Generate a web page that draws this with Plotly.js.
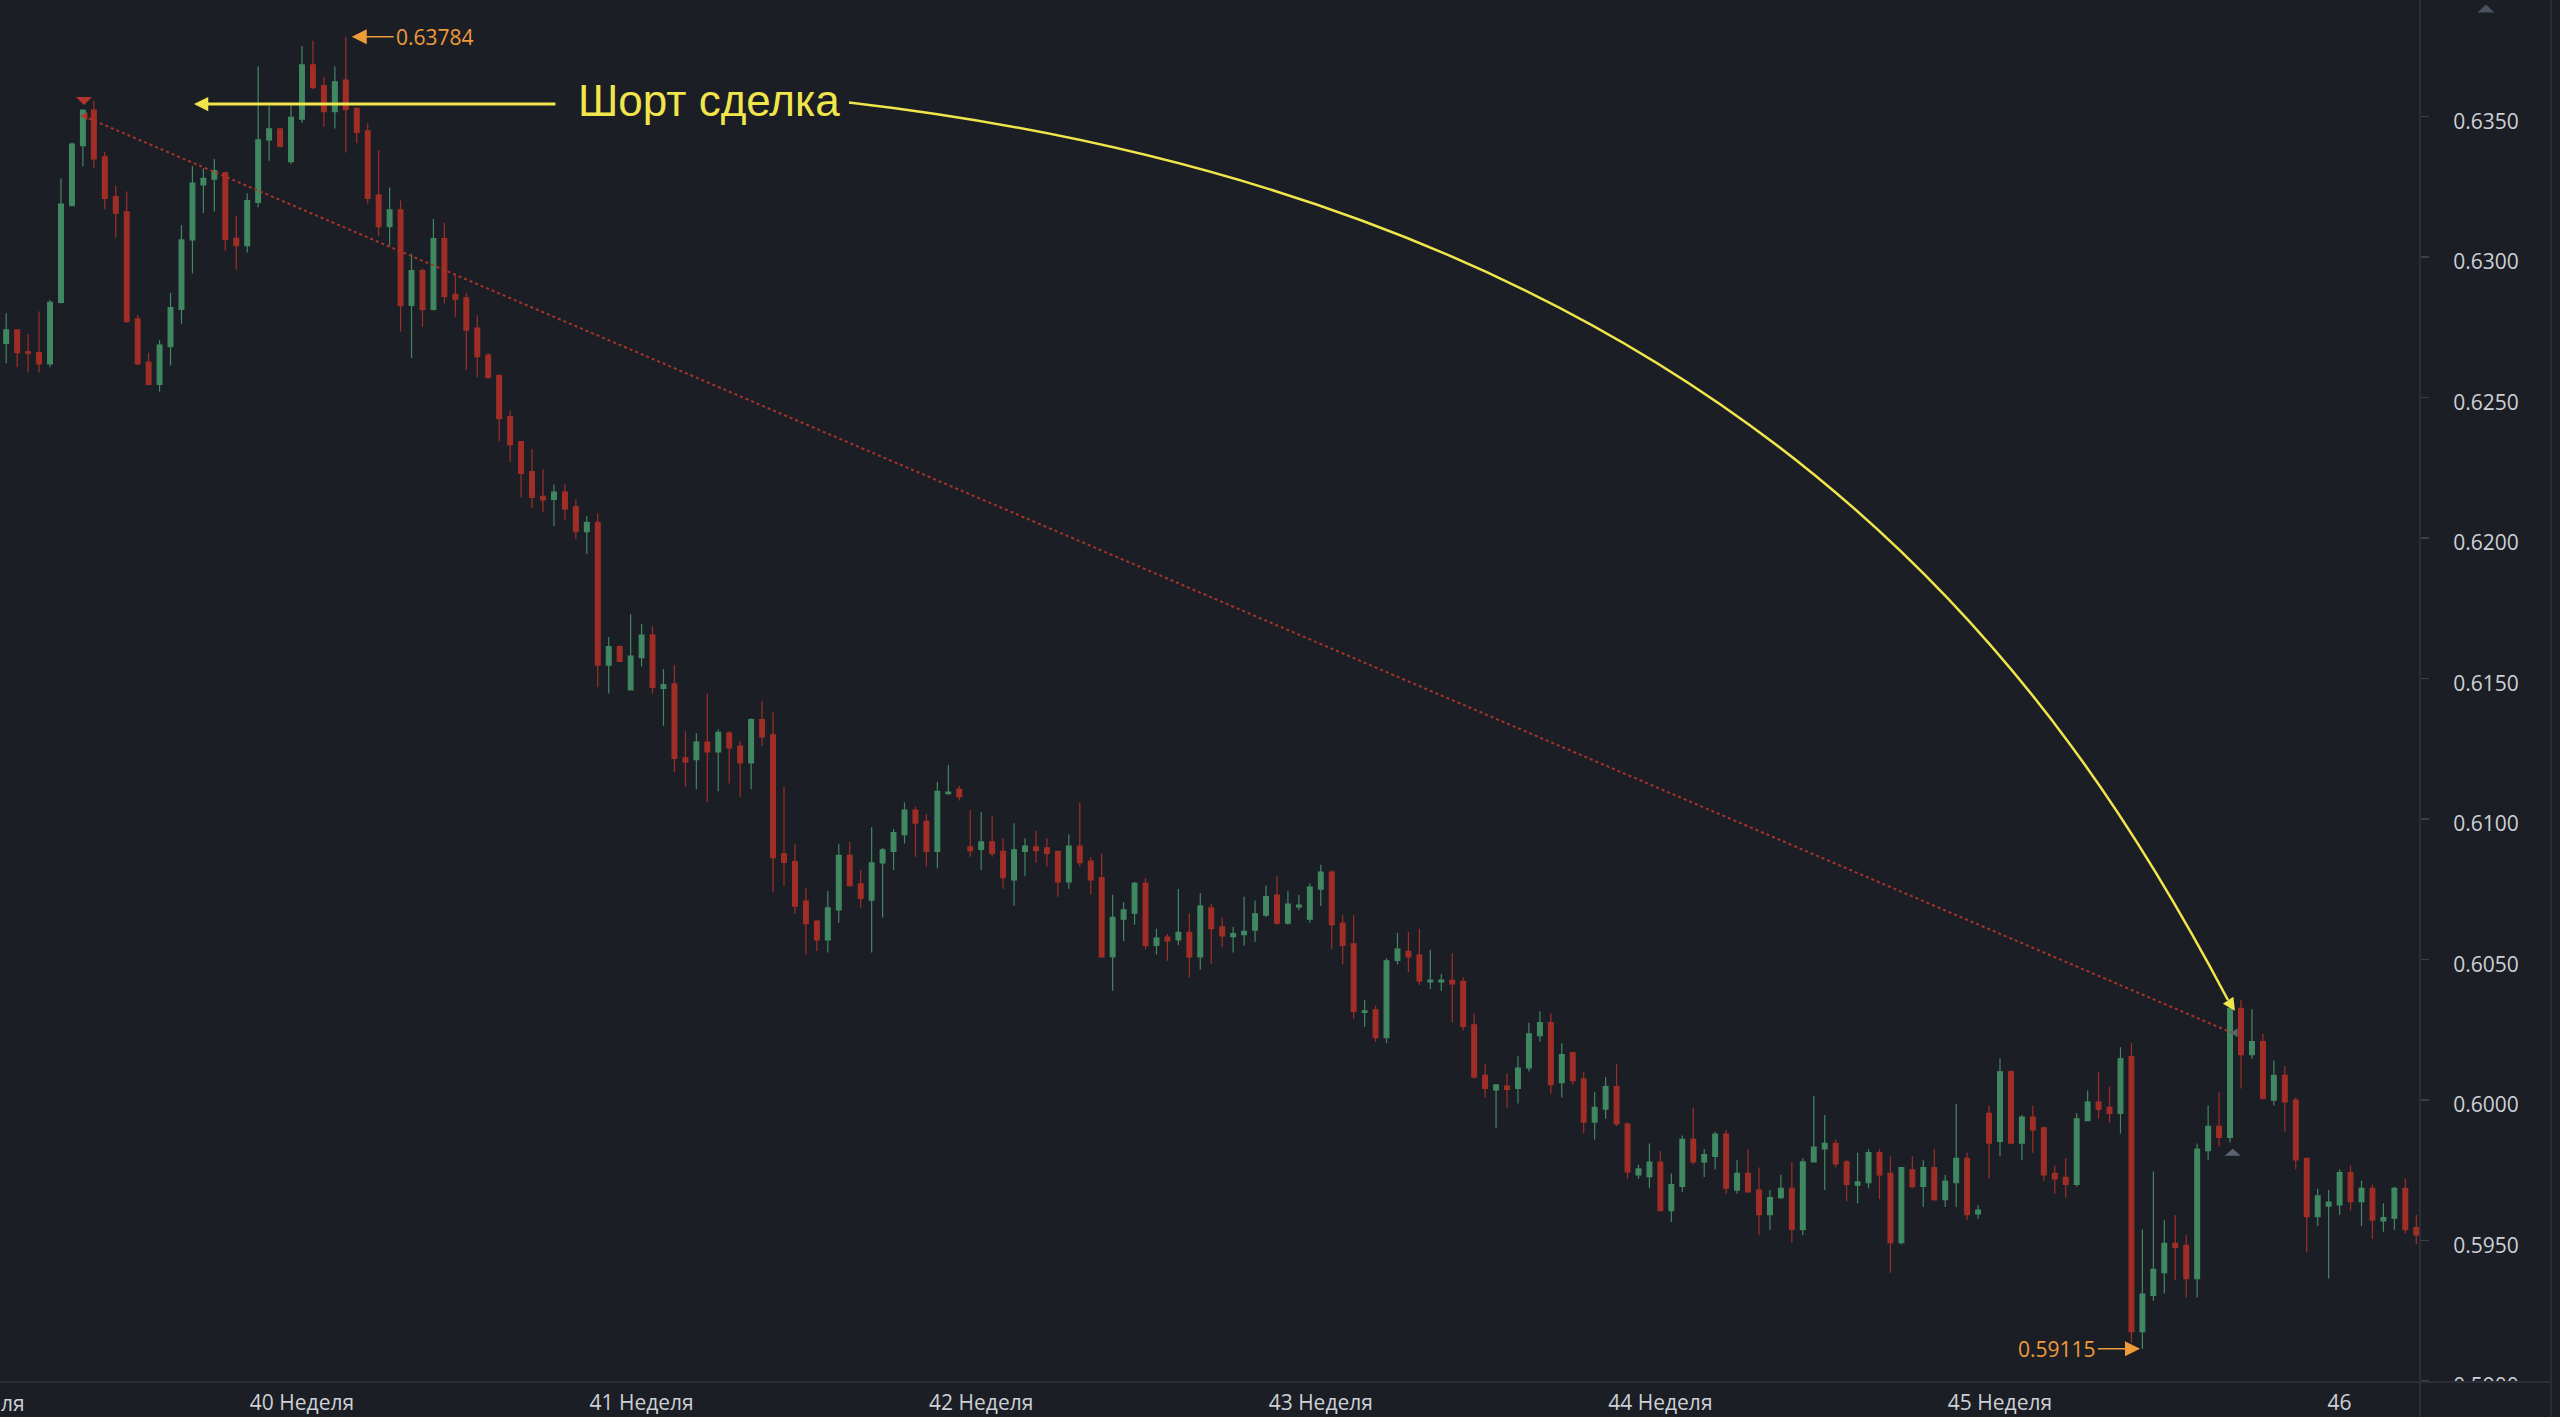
<!DOCTYPE html>
<html><head><meta charset="utf-8">
<script src="https://cdn.plot.ly/plotly-3.0.1.min.js"></script>
<style>html,body{margin:0;padding:0;background:#1b1e25;overflow:hidden}#chart{width:2560px;height:1417px}</style>
</head><body><div id="chart"></div>
<script>
// ---- 4h candles, weeks 39..46 ----
const open = [
0.62693,0.62741,0.62663,0.62660,0.62620,0.62839,0.63183,0.63397,0.63523,0.63357,
0.63215,0.63161,0.62780,0.62626,0.62547,0.62681,0.62814,0.63061,0.63257,0.63277,
0.63300,0.63067,0.63041,0.63195,0.63417,0.63456,0.63340,0.63491,0.63684,0.63610,
0.63518,0.63630,0.63529,0.63449,0.63221,0.63108,0.63168,0.62828,0.62952,0.62814,
0.63066,0.62867,0.62855,0.62747,0.62651,0.62579,0.62432,0.62343,0.62237,0.62149,
0.62138,0.62164,0.62111,0.62023,0.62056,0.61548,0.61614,0.61460,0.61575,0.61655,
0.61465,0.61481,0.61218,0.61212,0.61274,0.61239,0.61306,0.61260,0.61200,0.61354,
0.61300,0.60876,0.60849,0.60708,0.60637,0.60570,0.60677,0.60871,0.60770,0.60712,
0.60844,0.60885,0.60945,0.61032,0.60992,0.60885,0.61091,0.61106,0.60901,0.60892,
0.60919,0.60885,0.60784,0.60885,0.60901,0.60898,0.60885,0.60777,0.60904,0.60851,
0.60792,0.60510,0.60644,0.60665,0.60771,0.60551,0.60580,0.60570,0.60597,0.60510,
0.60684,0.60617,0.60582,0.60589,0.60605,0.60658,0.60730,0.60630,0.60688,0.60644,
0.60751,0.60811,0.60630,0.60556,0.60312,0.60321,0.60222,0.60497,0.60529,0.60516,
0.60421,0.60421,0.60426,0.60423,0.60268,0.60088,0.60036,0.60050,0.60042,0.60115,
0.60229,0.60276,0.60062,0.60169,0.60075,0.59922,0.59968,0.60048,0.59915,0.59734,
0.59728,0.59779,0.59607,0.59693,0.59860,0.59780,0.59800,0.59879,0.59680,0.59739,
0.59680,0.59592,0.59653,0.59686,0.59539,0.59780,0.59826,0.59846,0.59780,0.59697,
0.59706,0.59813,0.59739,0.59493,0.59752,0.59693,0.59760,0.59646,0.59706,0.59793,
0.59595,0.59953,0.59853,0.60101,0.59847,0.59940,0.59901,0.59739,0.59725,0.59700,
0.59927,0.59993,0.59974,0.59953,0.60155,0.59176,0.59305,0.59386,0.59490,0.59483,
0.59365,0.59820,0.59907,0.59867,0.60327,0.60162,0.60208,0.60000,0.60088,0.60000,
0.59793,0.59585,0.59623,0.59627,0.59742,0.59639,0.59686,0.59570,0.59580,0.59686,
0.59546
];
const high = [
0.62800,0.62743,0.62726,0.62806,0.62847,0.63280,0.63408,0.63525,0.63557,0.63375,
0.63254,0.63233,0.62794,0.62660,0.62705,0.62873,0.63114,0.63324,0.63316,0.63349,
0.63304,0.63147,0.63227,0.63678,0.63538,0.63458,0.63541,0.63751,0.63770,0.63642,
0.63678,0.63784,0.63533,0.63476,0.63381,0.63248,0.63201,0.63012,0.62959,0.63136,
0.63122,0.62935,0.62873,0.62793,0.62658,0.62581,0.62453,0.62345,0.62317,0.62244,
0.62191,0.62191,0.62138,0.62078,0.62088,0.61648,0.61619,0.61729,0.61694,0.61686,
0.61534,0.61548,0.61313,0.61306,0.61447,0.61320,0.61313,0.61279,0.61359,0.61421,
0.61380,0.61115,0.60911,0.60757,0.60640,0.60744,0.60911,0.60919,0.60818,0.60971,
0.60898,0.60965,0.61059,0.61045,0.61018,0.61132,0.61193,0.61118,0.61032,0.61025,
0.61012,0.60932,0.60985,0.60932,0.60959,0.60932,0.60887,0.60945,0.61059,0.60865,
0.60878,0.60731,0.60704,0.60777,0.60790,0.60610,0.60591,0.60751,0.60665,0.60737,
0.60698,0.60650,0.60617,0.60724,0.60710,0.60764,0.60797,0.60743,0.60730,0.60771,
0.60838,0.60818,0.60658,0.60658,0.60356,0.60336,0.60505,0.60596,0.60597,0.60610,
0.60535,0.60449,0.60523,0.60437,0.60309,0.60128,0.60056,0.60095,0.60156,0.60275,
0.60316,0.60310,0.60202,0.60171,0.60101,0.60029,0.60081,0.60128,0.59920,0.59770,
0.59846,0.59819,0.59739,0.59874,0.59974,0.59826,0.59887,0.59894,0.59787,0.59826,
0.59760,0.59680,0.59734,0.59780,0.59793,0.60015,0.59947,0.59860,0.59786,0.59813,
0.59826,0.59826,0.59800,0.59762,0.59800,0.59786,0.59826,0.59734,0.59987,0.59813,
0.59626,0.59980,0.60148,0.60107,0.59947,0.59980,0.59907,0.59767,0.59793,0.59953,
0.60034,0.60101,0.60048,0.60188,0.60202,0.59540,0.59746,0.59573,0.59591,0.59519,
0.59846,0.59981,0.60028,0.60344,0.60356,0.60323,0.60235,0.60141,0.60121,0.60008,
0.59795,0.59685,0.59680,0.59754,0.59767,0.59713,0.59700,0.59633,0.59692,0.59720,
0.59591
];
const low = [
0.62622,0.62608,0.62589,0.62589,0.62608,0.62835,0.63181,0.63322,0.63316,0.63170,
0.63070,0.62766,0.62616,0.62545,0.62521,0.62614,0.62762,0.62942,0.63156,0.63162,
0.63023,0.62956,0.63016,0.63177,0.63343,0.63389,0.63330,0.63478,0.63598,0.63464,
0.63458,0.63372,0.63405,0.63191,0.63075,0.63040,0.62735,0.62641,0.62752,0.62810,
0.62835,0.62788,0.62598,0.62573,0.62566,0.62345,0.62271,0.62145,0.62106,0.62092,
0.62042,0.62064,0.61996,0.61943,0.61469,0.61447,0.61559,0.61458,0.61543,0.61447,
0.61332,0.61168,0.61115,0.61106,0.61062,0.61099,0.61127,0.61079,0.61106,0.61260,
0.60739,0.60764,0.60663,0.60516,0.60531,0.60525,0.60631,0.60760,0.60685,0.60525,
0.60650,0.60819,0.60913,0.60866,0.60831,0.60825,0.61088,0.61066,0.60866,0.60819,
0.60866,0.60752,0.60692,0.60798,0.60845,0.60831,0.60724,0.60752,0.60831,0.60732,
0.60508,0.60389,0.60565,0.60624,0.60538,0.60518,0.60496,0.60551,0.60437,0.60464,
0.60484,0.60544,0.60525,0.60550,0.60564,0.60652,0.60624,0.60624,0.60676,0.60631,
0.60691,0.60538,0.60483,0.60290,0.60261,0.60208,0.60202,0.60483,0.60456,0.60410,
0.60395,0.60389,0.60276,0.60249,0.60076,0.60009,0.59901,0.59974,0.59988,0.60102,
0.60209,0.60023,0.60009,0.60055,0.59881,0.59860,0.59934,0.59908,0.59720,0.59720,
0.59686,0.59605,0.59566,0.59673,0.59772,0.59726,0.59753,0.59667,0.59667,0.59671,
0.59519,0.59539,0.59647,0.59493,0.59519,0.59778,0.59680,0.59760,0.59640,0.59633,
0.59686,0.59647,0.59386,0.59486,0.59686,0.59620,0.59640,0.59620,0.59620,0.59573,
0.59578,0.59720,0.59800,0.59845,0.59787,0.59813,0.59713,0.59667,0.59654,0.59692,
0.59925,0.59934,0.59920,0.59881,0.59137,0.59115,0.59286,0.59312,0.59360,0.59298,
0.59298,0.59787,0.59834,0.59849,0.60041,0.60147,0.60002,0.59981,0.59888,0.59754,
0.59459,0.59552,0.59365,0.59592,0.59607,0.59552,0.59506,0.59532,0.59539,0.59526,
0.59486
];
const close = [
0.62741,0.62660,0.62658,0.62620,0.62839,0.63189,0.63402,0.63523,0.63349,0.63209,
0.63156,0.62770,0.62620,0.62547,0.62687,0.62820,0.63061,0.63263,0.63280,0.63308,
0.63063,0.63041,0.63201,0.63417,0.63456,0.63395,0.63497,0.63684,0.63603,0.63518,
0.63624,0.63526,0.63444,0.63209,0.63108,0.63168,0.62827,0.62952,0.62814,0.63066,
0.62860,0.62850,0.62740,0.62646,0.62572,0.62425,0.62333,0.62230,0.62145,0.62136,
0.62164,0.62104,0.62023,0.62056,0.61548,0.61614,0.61561,0.61580,0.61655,0.61469,
0.61478,0.61216,0.61203,0.61274,0.61239,0.61309,0.61253,0.61200,0.61354,0.61293,
0.60863,0.60846,0.60690,0.60628,0.60570,0.60684,0.60871,0.60763,0.60718,0.60844,
0.60891,0.60952,0.61032,0.60986,0.60885,0.61099,0.61096,0.61080,0.60888,0.60919,
0.60878,0.60792,0.60891,0.60904,0.60888,0.60878,0.60777,0.60904,0.60845,0.60784,
0.60510,0.60650,0.60677,0.60771,0.60551,0.60577,0.60567,0.60597,0.60510,0.60691,
0.60610,0.60584,0.60593,0.60601,0.60663,0.60724,0.60630,0.60698,0.60694,0.60758,
0.60811,0.60624,0.60551,0.60316,0.60318,0.60222,0.60496,0.60537,0.60510,0.60424,
0.60427,0.60427,0.60414,0.60262,0.60082,0.60042,0.60054,0.60038,0.60114,0.60236,
0.60276,0.60055,0.60162,0.60069,0.59922,0.59974,0.60048,0.59915,0.59745,0.59755,
0.59779,0.59607,0.59699,0.59860,0.59780,0.59806,0.59879,0.59687,0.59739,0.59673,
0.59592,0.59653,0.59686,0.59540,0.59780,0.59833,0.59846,0.59773,0.59700,0.59709,
0.59813,0.59734,0.59493,0.59760,0.59692,0.59760,0.59646,0.59712,0.59793,0.59592,
0.59609,0.59847,0.60101,0.59847,0.59940,0.59894,0.59734,0.59720,0.59700,0.59933,
0.59993,0.59967,0.59953,0.60147,0.59176,0.59310,0.59398,0.59490,0.59476,0.59365,
0.59826,0.59907,0.59867,0.60327,0.60162,0.60208,0.60006,0.60088,0.59994,0.59787,
0.59585,0.59659,0.59637,0.59742,0.59639,0.59686,0.59573,0.59582,0.59686,0.59539,
0.59520
];
const candleIndex = open.map((_, i) => i);

// week tick labels (placed on the first candle of each week)
const weekTickIndex = [27, 58, 89, 120, 151, 182, 213];
const weekTickText  = ['40 Неделя','41 Неделя','42 Неделя','43 Неделя','44 Неделя','45 Неделя','46'];
const priceTicks     = [0.5900,0.5950,0.6000,0.6050,0.6100,0.6150,0.6200,0.6250,0.6300,0.6350];
const priceTickText  = ['0.5900','0.5950','0.6000','0.6050','0.6100','0.6150','0.6200','0.6250','0.6300','0.6350'];

// labelled extremes
const maxLabel = {k: 31.54, price: 0.63784, text: '0.63784'};
const minLabel = {k: 194.78, price: 0.59115, text: '0.59115'};

// trade drawing anchors (candle index, price)
const tradeEntry = {k: 7.04, price: 0.63502};
const tradeExit  = {k: 203.15, price: 0.60240};
const entryMark  = {k: 7.1, price: 0.635555};
const exitMark   = {k: 203.24, price: 0.598146};
const labelPos   = {k: 64.11, price: 0.635566, text: 'Шорт сделка'};
const arrowTip   = {k: 17.14, price: 0.635448};
const curveStart = {k: 76.93, price: 0.635502};
const curveC1    = {k: 159.08, price: 0.631787};
const curveC2    = {k: 188.02, price: 0.614470};
const curveEnd   = {k: 202.81, price: 0.603563};
const curveTip   = {k: 203.45, price: 0.603181};

const BG = '#1b1e25', GREEN = '#3f8862', RED = '#a12e26', YELLOW = '#f0e54b',
      ORANGE = '#ef9b3a', GRID = '#2a2e37', TXT = '#cdd0d6', GRAY = '#5b6270';

const trace = {
  type: 'candlestick', x: candleIndex, open: open, high: high, low: low, close: close,
  increasing: {line: {color: GREEN, width: 1.2}, fillcolor: GREEN},
  decreasing: {line: {color: RED, width: 1.2}, fillcolor: RED},
  whiskerwidth: 0, hoverinfo: 'skip', showlegend: false
};

const layout = {
  width: 2560, height: 1417,
  paper_bgcolor: BG, plot_bgcolor: BG,
  margin: {l: 0, r: 140, t: 0, b: 35, pad: 0},
  boxgap: 0.38,
  showlegend: false,
  font: {family: 'Open Sans, sans-serif', color: TXT},
  xaxis: {
    range: [-0.566, 220.34], showgrid: false, zeroline: false, showline: false,
    tickmode: 'array', tickvals: weekTickIndex, ticktext: weekTickText, ticks: '',
    tickfont: {family: 'Open Sans', size: 21, color: TXT}, ticklabelstandoff: 6,
    rangeslider: {visible: false}, fixedrange: true
  },
  yaxis: {
    side: 'right', range: [0.589969, 0.639149], showgrid: false, zeroline: false, showline: false,
    tickmode: 'array', tickvals: priceTicks, ticktext: priceTickText,
    ticks: 'outside', ticklen: 8, tickwidth: 1.5, tickcolor: '#3a3f4a',
    tickfont: {family: 'Open Sans', size: 21, color: TXT}, ticklabelstandoff: 20, ticklabelshift: 5,
    fixedrange: true
  },
  shapes: [
    {type: 'line', xref: 'x', yref: 'y', x0: tradeEntry.k, y0: tradeEntry.price, x1: tradeExit.k, y1: tradeExit.price,
     line: {color: '#a9332b', width: 2, dash: 'dot'}, layer: 'above'},
    {type: 'path', xref: 'x', yref: 'y', layer: 'above',
     path: `M ${curveStart.k},${curveStart.price} C ${curveC1.k},${curveC1.price} ${curveC2.k},${curveC2.price} ${curveEnd.k},${curveEnd.price}`,
     line: {color: YELLOW, width: 2.5}},
    {type: 'path', xref: 'x', yref: 'y', xsizemode: 'pixel', ysizemode: 'pixel', xanchor: entryMark.k, yanchor: entryMark.price,
     path: 'M -8,4 L 8,4 L 0,-4 Z', fillcolor: '#b3352b', line: {width: 0}, layer: 'above'},
    {type: 'path', xref: 'x', yref: 'y', xsizemode: 'pixel', ysizemode: 'pixel', xanchor: tradeEntry.k, yanchor: tradeEntry.price,
     path: 'M -3,0 L 4,4 L 4,-4 Z', fillcolor: '#b3352b', line: {width: 0}, layer: 'above'},
    {type: 'path', xref: 'x', yref: 'y', xsizemode: 'pixel', ysizemode: 'pixel', xanchor: tradeExit.k, yanchor: tradeExit.price,
     path: 'M -1,0 L 6,4.5 L 6,-4.5 Z', fillcolor: GRAY, line: {width: 0}, layer: 'above'},
    {type: 'path', xref: 'x', yref: 'y', xsizemode: 'pixel', ysizemode: 'pixel', xanchor: exitMark.k, yanchor: exitMark.price,
     path: 'M -8,-3.5 L 8,-3.5 L 0,3.5 Z', fillcolor: GRAY, line: {width: 0}, layer: 'above'},
    // cover lower half of the clipped bottom price label
    {type: 'rect', xref: 'paper', yref: 'paper', x0: 1.001, x1: 1.06, y0: -0.03, y1: 0, fillcolor: BG, line: {width: 0}, layer: 'above'},
    // pane borders
    {type: 'line', xref: 'paper', yref: 'paper', x0: -0.01, x1: 1.0541, y0: 0, y1: 0, line: {color: GRID, width: 2}, layer: 'above'},
    {type: 'line', xref: 'paper', yref: 'paper', x0: 1.0, x1: 1.0, y0: -0.03, y1: 1, line: {color: GRID, width: 2}, layer: 'above'},
    {type: 'line', xref: 'paper', yref: 'paper', x0: 1.0541, x1: 1.0541, y0: -0.03, y1: 1, line: {color: GRID, width: 2}, layer: 'above'},
    {type: 'path', xref: 'paper', yref: 'paper', xsizemode: 'pixel', ysizemode: 'pixel', xanchor: 1.02727, yanchor: 0.99385,
     path: 'M -8.5,-4 L 8.5,-4 L 0,4 Z', fillcolor: '#4b5261', line: {width: 0}, layer: 'above'}
  ],
  annotations: [
    {xref: 'x', yref: 'y', x: labelPos.k, y: labelPos.price, text: labelPos.text, showarrow: false,
     xanchor: 'center', yanchor: 'middle', font: {family: 'Liberation Sans, Arial, sans-serif', size: 44, color: YELLOW}},
    {xref: 'x', yref: 'y', x: arrowTip.k, y: arrowTip.price, text: '', showarrow: true, ax: 363, ay: 0,
     arrowcolor: YELLOW, arrowwidth: 3, arrowhead: 2, arrowsize: 0.95, standoff: 0},
    {xref: 'x', yref: 'y', x: curveTip.k, y: curveTip.price, text: '', showarrow: true, ax: -7, ay: -10.7,
     arrowcolor: YELLOW, arrowwidth: 2.5, arrowhead: 2, arrowsize: 1.0, standoff: 0},
    {xref: 'x', yref: 'y', x: maxLabel.k, y: maxLabel.price, text: maxLabel.text, showarrow: true, ax: 42, ay: 0,
     xanchor: 'left', yanchor: 'middle', arrowcolor: ORANGE, arrowwidth: 1.5, arrowhead: 2, arrowsize: 2, standoff: 0,
     font: {family: 'Open Sans', size: 21, color: ORANGE}},
    {xref: 'x', yref: 'y', x: minLabel.k, y: minLabel.price, text: minLabel.text, showarrow: true, ax: -42, ay: 0,
     xanchor: 'right', yanchor: 'middle', arrowcolor: ORANGE, arrowwidth: 1.5, arrowhead: 2, arrowsize: 2, standoff: 0,
     font: {family: 'Open Sans', size: 21, color: ORANGE}},
    // visible tail of the previous week's label ("39 Неделя"), cut by the left edge
    {xref: 'paper', yref: 'paper', x: 0, y: -0.01505, text: 'ля', showarrow: false,
     xanchor: 'left', yanchor: 'middle', borderpad: 0, font: {family: 'Open Sans', size: 21, color: TXT}}
  ]
};

Plotly.newPlot('chart', [trace], layout, {staticPlot: true, displayModeBar: false});
</script></body></html>
